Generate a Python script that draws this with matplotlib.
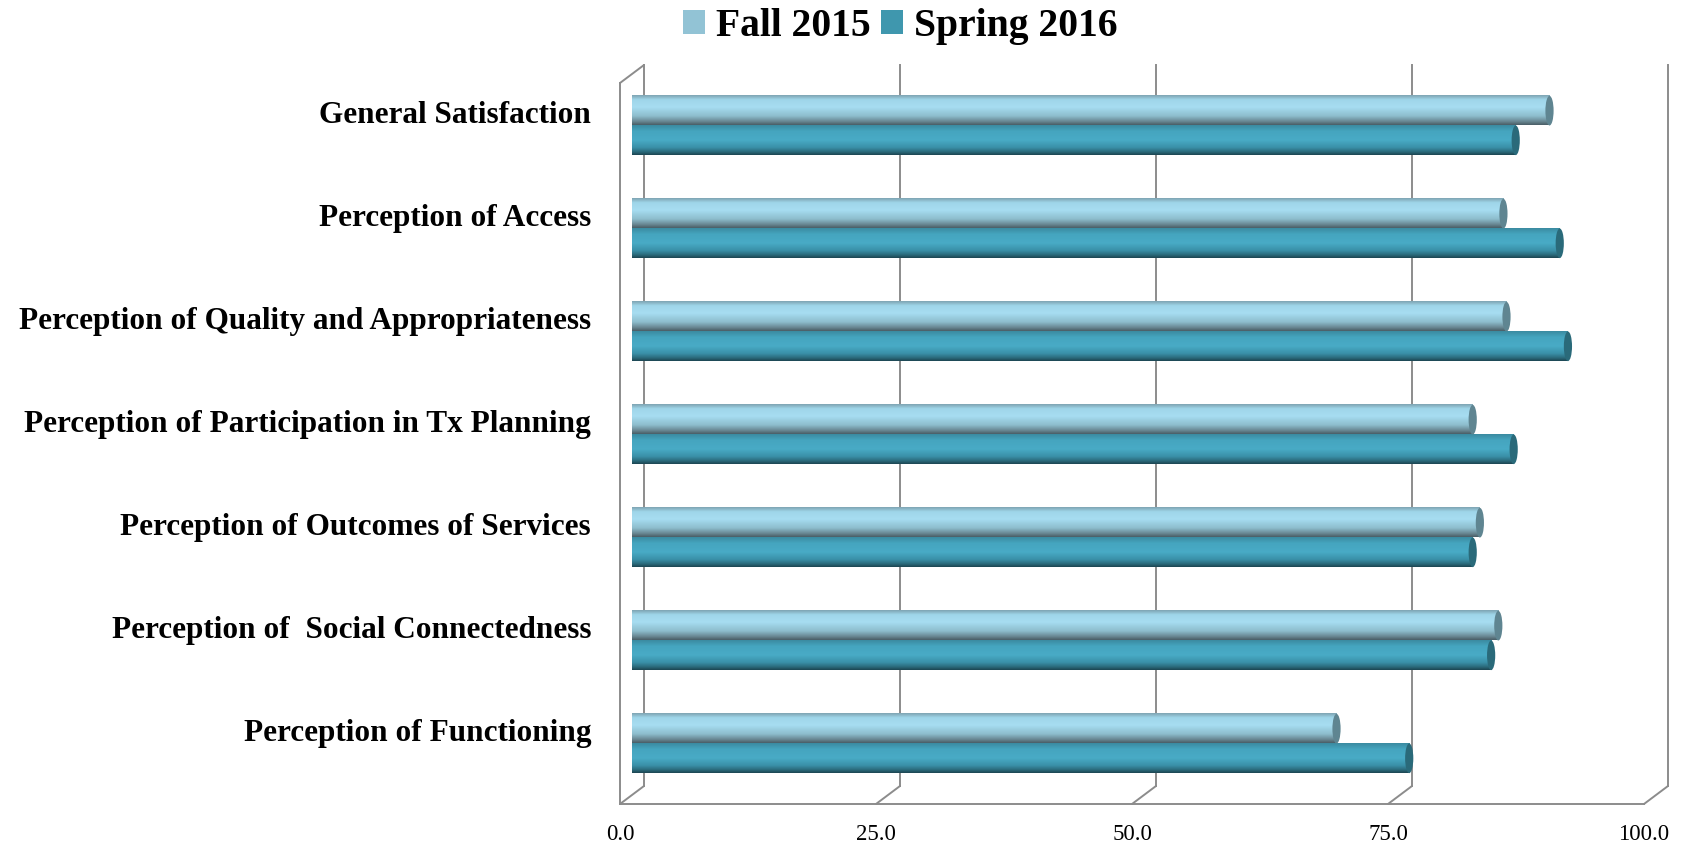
import numpy as np
import matplotlib.pyplot as plt
from matplotlib.patches import Ellipse, Patch, ConnectionPatch
from matplotlib.transforms import ScaledTranslation
from matplotlib.colors import LinearSegmentedColormap

# survey results (percent), top to bottom as shown
categories = ['General Satisfaction',
              'Perception of Access',
              'Perception of Quality and Appropriateness',
              'Perception of Participation in Tx Planning',
              'Perception of Outcomes of Services',
              'Perception of  Social Connectedness',
              'Perception of Functioning']
fall_2015 = [89.6, 85.1, 85.4, 82.1, 82.8, 84.6, 68.8]
spring_2016 = [86.3, 90.6, 91.4, 86.1, 82.1, 83.9, 75.9]
series_names = ['Fall 2015', 'Spring 2016']
ticks = [0, 25, 50, 75, 100]
tick_labels = ['0.0', '25.0', '50.0', '75.0', '100.0']

plt.rcParams['font.family'] = ['Liberation Serif', 'DejaVu Serif']

W, H = 1689, 848
fig = plt.figure(figsize=(W / 100, H / 100), dpi=100)
ax = fig.add_axes([632 / W, 53 / H, 1024 / W, 721 / H])

# cylinder shading, top edge -> bottom edge
fall_cmap = LinearSegmentedColormap.from_list('fall', [
    (0.0, '#7fa5b3'), (0.15, '#9fd6ea'), (0.4, '#a7ddf1'),
    (0.7, '#8dbdcd'), (0.88, '#6a8994'), (1.0, '#4a5f67')])
spring_cmap = LinearSegmentedColormap.from_list('spring', [
    (0.0, '#3b8ba1'), (0.2, '#45a5bf'), (0.5, '#49abc6'),
    (0.75, '#3a90a8'), (0.9, '#2b6a7b'), (1.0, '#1d4753')])
cap_colors = ['#5f8591', '#2a6a7a']
legend_colors = ['#92c3d5', '#3f97ae']

n = len(categories)
y = np.arange(n)[::-1]
bar_h = 0.2875
cap_w = 0.8
grad = np.linspace(0, 1, 80).reshape(-1, 1)

for vals, cmap, cap, sign in [(fall_2015, fall_cmap, cap_colors[0], 1),
                              (spring_2016, spring_cmap, cap_colors[1], -1)]:
    for yi, v in zip(y, vals):
        yc = yi + sign * bar_h / 2
        ax.imshow(grad, cmap=cmap, aspect='auto', origin='upper',
                  extent=[0, v, yc - bar_h / 2, yc + bar_h / 2], zorder=2,
                  interpolation='bilinear')
        # rounded far end of the cylinder
        back_end = Ellipse((0, yc), width=cap_w, height=bar_h,
                           facecolor='none', edgecolor='none')
        ax.add_patch(back_end)
        im = ax.imshow(grad, cmap=cmap, aspect='auto', origin='upper',
                       extent=[-cap_w / 2, cap_w / 2, yc - bar_h / 2, yc + bar_h / 2],
                       zorder=1.9, interpolation='bilinear')
        im.set_clip_path(back_end)
        ax.add_patch(Ellipse((v, yc), width=cap_w, height=bar_h,
                             facecolor=cap, edgecolor='none', zorder=3))

# 3d frame: back wall and floor
dpi_tr = fig.dpi_scale_trans
back = ax.transData + ScaledTranslation(0.12, 0.09, dpi_tr)
front = ax.transData + ScaledTranslation(-0.12, -0.09, dpi_tr)
grid_kw = dict(color='#8c8c8c', lw=1.4, zorder=0.5, clip_on=False)
y0, y1 = -0.5, 6.5
for t in ticks:
    ax.plot([t, t], [y0, y1], transform=back, **grid_kw)
    ax.add_artist(ConnectionPatch((t, y0), (t, y0), coordsA=front, coordsB=back,
                                  **grid_kw))
ax.plot([0, 100], [y0, y0], transform=front, **grid_kw)
ax.plot([0, 0], [y0, y1], transform=front, **grid_kw)
ax.add_artist(ConnectionPatch((0, y1), (0, y1), coordsA=front, coordsB=back,
                              **grid_kw))

# value labels sit under the front edge of the floor
label_tr = ax.transData + ScaledTranslation(-0.12, -0.40, dpi_tr)
for t, lab in zip(ticks, tick_labels):
    ax.text(t, y0, lab, transform=label_tr, ha='center', va='center',
            fontsize=16.5, clip_on=False)

ax.set_xticks([])
ax.set_yticks(y + 0.127, labels=categories)
ax.set_xlim(0, 100)
ax.set_ylim(y0, y1)
ax.tick_params(axis='y', length=0, pad=29.5, labelsize=22.5)
for lab in ax.get_yticklabels():
    lab.set_fontweight('bold')
for s in ax.spines.values():
    s.set_visible(False)

handles = [Patch(facecolor=c, edgecolor='none') for c in legend_colors]
fig.legend(handles, series_names, loc='center', bbox_to_anchor=(0.533, 0.969),
           ncol=2, frameon=False, borderpad=0, handlelength=0.55,
           handleheight=0.55, handletextpad=0.28, columnspacing=0.25,
           prop={'weight': 'bold', 'size': 28.5})

fig.savefig('out.png', dpi=100)
